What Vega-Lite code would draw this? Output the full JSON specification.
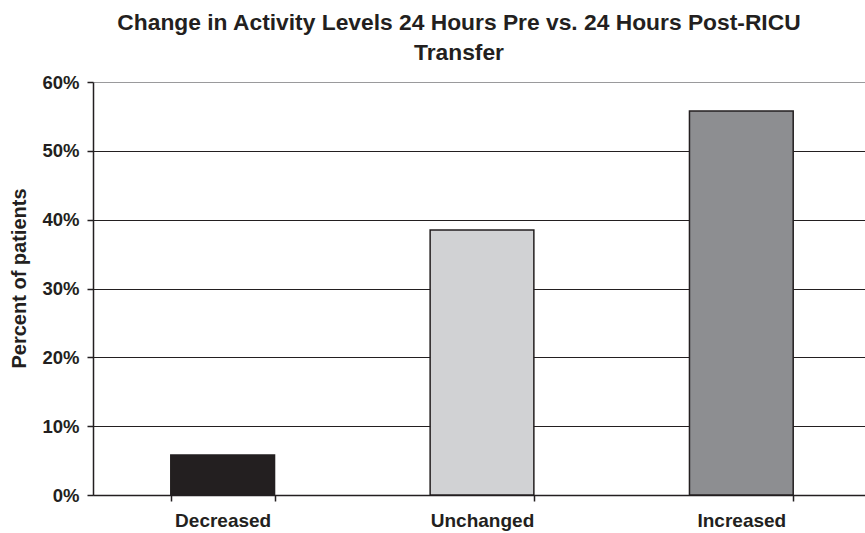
{
  "$schema": "https://vega.github.io/schema/vega-lite/v6.json",
  "width": 772,
  "height": 413,
  "autosize": {"type": "none"},
  "padding": {"left": 93, "top": 82, "right": 0, "bottom": 38},
  "background": "white",
  "title": {
    "text": ["Change in Activity Levels 24 Hours Pre vs. 24 Hours Post-RICU", "Transfer"],
    "font": "Liberation Sans",
    "fontSize": 22.8,
    "fontWeight": "bold",
    "color": "#231f20",
    "anchor": "middle",
    "dx": -20,
    "offset": 8,
    "lineHeight": 30
  },
  "data": {
    "values": [
      {"category": "Decreased", "pct": 0.058},
      {"category": "Unchanged", "pct": 0.385},
      {"category": "Increased", "pct": 0.558}
    ]
  },
  "config": {
    "view": {"stroke": null},
    "axis": {
      "labelFont": "Liberation Sans",
      "titleFont": "Liberation Sans",
      "labelFontWeight": "bold",
      "titleFontWeight": "bold",
      "labelColor": "#231f20",
      "titleColor": "#231f20",
      "domainColor": "#231f20",
      "tickColor": "#231f20",
      "domainWidth": 1.5,
      "tickWidth": 1.5
    }
  },
  "layer": [
    {
      "mark": {"type": "bar", "stroke": "#231f20", "strokeWidth": 1.5},
      "encoding": {
        "x": {
          "field": "category",
          "type": "nominal",
          "sort": ["Decreased", "Unchanged", "Increased"],
          "scale": {"paddingInner": 0.6, "paddingOuter": 0.3, "range": [0, 778]},
          "axis": {
            "title": null,
            "labelAngle": 0,
            "labelFontSize": 19,
            "labelPadding": 10,
            "tickBand": "extent",
            "tickSize": 6,
            "grid": false
          }
        },
        "y": {
          "field": "pct",
          "type": "quantitative",
          "scale": {"domain": [0, 0.6]},
          "axis": {
            "title": "Percent of patients",
            "titleFontSize": 20,
            "titleX": -74,
            "titleY": 196,
            "titleBaseline": "middle",
            "titleAlign": "center",
            "titleAngle": -90,
            "format": ".0%",
            "values": [0, 0.1, 0.2, 0.3, 0.4, 0.5, 0.6],
            "labelFontSize": 18.5,
            "labelPadding": 8,
            "tickSize": 6,
            "grid": true,
            "gridColor": {"condition": {"test": "datum.value >= 0.59", "value": "#9a9a9c"}, "value": "#231f20"},
            "gridWidth": 1.2
          }
        },
        "color": {
          "field": "category",
          "type": "nominal",
          "scale": {"domain": ["Decreased", "Unchanged", "Increased"], "range": ["#231f20", "#d1d2d4", "#8d8e91"]},
          "legend": null
        }
      }
    }
  ]
}
